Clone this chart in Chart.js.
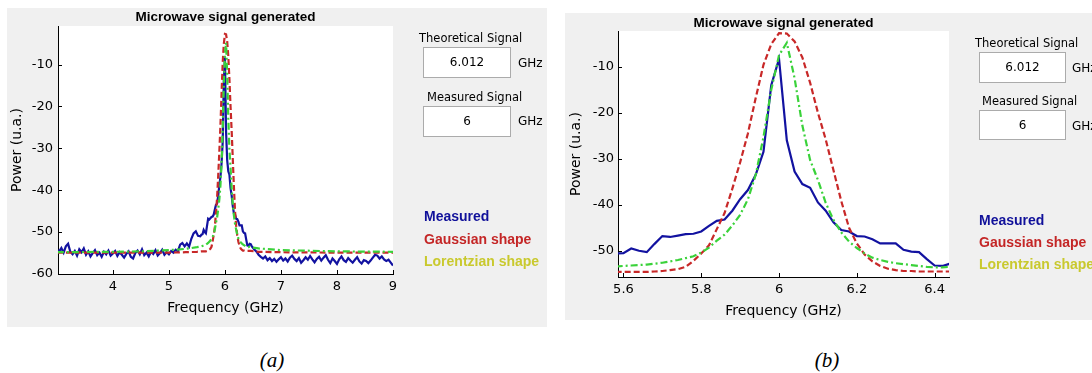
<!DOCTYPE html>
<html>
<head>
<meta charset="utf-8">
<script src="https://cdn.jsdelivr.net/npm/chart.js@4.4.1/dist/chart.umd.min.js"></script>
<style>
  html, body { margin: 0; padding: 0; background: #fff; }
  body { width: 1092px; height: 373px; position: relative; overflow: hidden; font-family: "DejaVu Sans", sans-serif; }
  .panel { position: absolute; background: #f0f0f0; }
  canvas { position: absolute; }
  .txt { position: absolute; white-space: nowrap; height: 16px; line-height: 16px; font-size: 11.5px; color: #000; z-index: 2; }
  .box { position: absolute; background: #fff; border: 1px solid #ababab; box-sizing: border-box; text-align: center; font-size: 12px; z-index: 2; }
  .leg { position: absolute; white-space: nowrap; font-family: "Liberation Sans", Arial, sans-serif; font-weight: bold; font-size: 14px; height: 16px; line-height: 16px; z-index: 2; }
  .cap { position: absolute; font-family: "Liberation Serif", serif; font-style: italic; font-size: 21px; width: 60px; text-align: center; height: 24px; line-height: 24px; }
</style>
</head>
<body>
  <div class="panel" style="left:7px; top:8px; width:540px; height:319px;"></div>
  <div class="panel" style="left:565px; top:13px; width:527px; height:307px;"></div>

  <canvas id="chartA" width="425" height="319" style="left:7px; top:8px;"></canvas>
  <canvas id="chartB" width="434" height="307" style="left:565px; top:13px;"></canvas>

  <!-- panel (a) controls -->
  <div class="txt" style="left:419px; top:30px;">Theoretical Signal</div>
  <div class="box" style="left:423px; top:47px; width:88px; height:31px; line-height:29px;">6.012</div>
  <div class="txt" style="left:518px; top:55px; font-size:12px;">GHz</div>
  <div class="txt" style="left:427px; top:89px;">Measured Signal</div>
  <div class="box" style="left:423px; top:106px; width:88px; height:31px; line-height:29px;">6</div>
  <div class="txt" style="left:518px; top:113px; font-size:12px;">GHz</div>
  <div class="leg" style="left:424px; top:208px; color:#10109a;">Measured</div>
  <div class="leg" style="left:424px; top:231px; color:#c42626;">Gaussian shape</div>
  <div class="leg" style="left:424px; top:253px; color:#c9c92e;">Lorentzian shape</div>

  <!-- panel (b) controls -->
  <div class="txt" style="left:975px; top:35px;">Theoretical Signal</div>
  <div class="box" style="left:979px; top:52px; width:87px; height:31px; line-height:29px;">6.012</div>
  <div class="txt" style="left:1072px; top:60px; font-size:12px;">GHz</div>
  <div class="txt" style="left:982px; top:93px;">Measured Signal</div>
  <div class="box" style="left:979px; top:110px; width:87px; height:30px; line-height:28px;">6</div>
  <div class="txt" style="left:1072px; top:118px; font-size:12px;">GHz</div>
  <div class="leg" style="left:979px; top:212px; color:#10109a;">Measured</div>
  <div class="leg" style="left:979px; top:234px; color:#c42626;">Gaussian shape</div>
  <div class="leg" style="left:979px; top:256px; color:#c9c92e;">Lorentzian shape</div>

  <div class="cap" style="left:242px; top:348px;">(a)</div>
  <div class="cap" style="left:797px; top:348px;">(b)</div>

<script>
// frequency samples (GHz) of the measured trace
const freqGHz = [
  3.00, 3.04, 3.08, 3.12, 3.16, 3.20, 3.24, 3.28, 3.32, 3.36,
  3.40, 3.44, 3.48, 3.52, 3.56, 3.60, 3.64, 3.68, 3.72, 3.76,
  3.80, 3.84, 3.88, 3.92, 3.96, 4.00, 4.04, 4.08, 4.12, 4.16,
  4.20, 4.24, 4.28, 4.32, 4.36, 4.40, 4.44, 4.48, 4.52, 4.56,
  4.60, 4.64, 4.68, 4.72, 4.76, 4.80, 4.84, 4.88, 4.92, 4.96,
  5.00, 5.04, 5.08, 5.12, 5.16, 5.20, 5.24, 5.28, 5.32, 5.36,
  5.40, 5.44, 5.48, 5.52, 5.56,
  5.58, 5.60, 5.62, 5.64, 5.66, 5.68, 5.70, 5.72, 5.74, 5.76,
  5.78, 5.80, 5.82, 5.84, 5.86, 5.88, 5.90, 5.92, 5.94, 5.96,
  5.98, 6.00, 6.02, 6.04, 6.06, 6.08, 6.10, 6.12, 6.14, 6.16,
  6.18, 6.20, 6.22, 6.24, 6.26, 6.28, 6.30, 6.32, 6.34, 6.36,
  6.38, 6.40, 6.42, 6.44, 6.46,
  6.48, 6.52, 6.56, 6.60, 6.64, 6.68, 6.72, 6.76, 6.80, 6.84,
  6.88, 6.92, 6.96, 7.00, 7.04, 7.08, 7.12, 7.16, 7.20, 7.24,
  7.28, 7.32, 7.36, 7.40, 7.44, 7.48, 7.52, 7.56, 7.60, 7.64,
  7.68, 7.72, 7.76, 7.80, 7.84, 7.88, 7.92, 7.96, 8.00, 8.04,
  8.08, 8.12, 8.16, 8.20, 8.24, 8.28, 8.32, 8.36, 8.40, 8.44,
  8.48, 8.52, 8.56, 8.60, 8.64, 8.68, 8.72, 8.76, 8.80, 8.84,
  8.88, 8.92, 8.96, 9.00
];

const measuredPower = [
  -54.2, -54.6, -53.8, -54.9, -53.4, -52.8, -54.7, -55.3, -54.5, -55.6,
  -54.1, -54.8, -53.9, -55.4, -54.6, -55.8, -55.0, -54.3, -55.5, -54.9,
  -55.9, -54.7, -55.3, -54.4, -55.6, -55.1, -54.5, -55.7, -54.8, -55.4,
  -56.1, -55.2, -54.6, -55.9, -56.3, -55.0, -54.4, -55.3, -54.1, -55.5,
  -54.9, -55.8, -54.7, -55.2, -54.3, -55.6, -55.0, -54.2, -55.4, -54.8,
  -55.3, -54.5, -54.9, -54.2, -54.6, -53.0, -52.6, -53.4, -52.7, -53.5,
  -51.6, -50.3, -49.8, -50.9, -51.0,
  -50.6, -50.5, -49.5, -50.0, -50.3, -48.5, -46.8, -47.0, -46.7, -46.4,
  -46.3, -45.8, -44.6, -43.5, -43.2, -41.3, -38.8, -36.8, -33.5, -28.5,
  -14.0, -8.3, -26.0, -32.8, -35.5, -36.3, -39.5, -41.3, -43.8, -45.5,
  -45.8, -46.8, -46.9, -47.5, -48.4, -48.4, -48.4, -49.8, -50.2, -50.3,
  -51.8, -53.2, -53.3, -52.8, -52.9,
  -53.4, -54.1, -54.6, -55.4, -55.9, -56.3, -55.8, -56.7, -56.2, -56.9,
  -56.4, -57.1, -56.5, -56.0, -56.8, -56.3, -57.0, -56.1, -55.6, -56.4,
  -56.9, -56.2, -57.3, -56.7, -56.0, -56.6, -55.7, -56.5, -57.2, -56.4,
  -55.9, -56.8, -56.1, -55.5, -56.6, -57.4, -56.3, -56.9, -57.6, -56.5,
  -55.8, -56.7, -57.1, -56.2, -56.8, -57.3, -56.6, -56.0, -57.0, -57.5,
  -56.7, -56.9, -57.4, -56.8, -56.1, -55.4, -55.6, -56.3, -55.8, -56.5,
  -56.9, -56.6, -57.3, -58.0
];

// frequency samples (GHz) of the two fitted shapes
const fitFreqGHz = [
  3.00, 4.00, 4.50, 5.00, 5.30, 5.50,
  5.58, 5.60, 5.62, 5.64, 5.66, 5.68, 5.70, 5.72, 5.74, 5.76,
  5.78, 5.80, 5.82, 5.84, 5.86, 5.88, 5.90, 5.92, 5.94, 5.96,
  5.98, 6.00, 6.02, 6.04, 6.06, 6.08, 6.10, 6.12, 6.14, 6.16,
  6.18, 6.20, 6.22, 6.24, 6.26, 6.28, 6.30, 6.32, 6.34, 6.36,
  6.38, 6.40, 6.42, 6.44, 6.46,
  6.60, 7.00, 8.00, 9.00
];

const gaussianPower = [
  -54.9, -54.9, -54.9, -54.9, -54.8, -54.7,
  -54.6, -54.6, -54.6, -54.6, -54.6, -54.5, -54.4, -54.2, -54.0, -53.5,
  -52.2, -50.6, -48.8, -45.3, -41.8, -36.5, -30.8, -24.5, -16.8, -9.6,
  -5.1, -2.7, -2.8, -4.5, -8.0, -13.5, -20.0, -25.8, -32.5, -39.2,
  -45.0, -48.4, -50.8, -52.3, -53.3, -53.9, -54.2, -54.4, -54.4, -54.5,
  -54.5, -54.5, -54.5, -54.5, -54.5,
  -54.7, -54.8, -54.9, -54.9
];

const lorentzianPower = [
  -54.8, -54.7, -54.6, -54.3, -54.0, -53.6,
  -53.4, -53.3, -53.2, -53.1, -53.0, -52.8, -52.6, -52.3, -52.0, -51.6,
  -51.2, -50.4, -49.3, -47.8, -46.5, -44.5, -42.2, -38.8, -33.5, -25.3,
  -15.0, -7.5, -4.8, -12.5, -22.8, -30.3, -34.6, -39.6, -43.3, -46.0,
  -48.0, -49.4, -50.6, -51.5, -52.0, -52.4, -52.7, -52.9, -53.1, -53.3,
  -53.5, -53.6, -53.6, -53.5, -53.6,
  -53.9, -54.3, -54.6, -54.7
];

const chartTitle = 'Microwave signal generated';
const xAxisTitle = 'Frequency (GHz)';
const yAxisTitle = 'Power (u.a.)';

// white plotting box like the MATLAB axes
const plotBackground = {
  id: 'plotBackground',
  beforeDraw(chart) {
    const { ctx, chartArea: a } = chart;
    ctx.save();
    ctx.fillStyle = '#fff';
    ctx.fillRect(a.left, a.top, a.right - a.left, a.bottom - a.top);
    ctx.restore();
  }
};

// tick marks pointing into the plot
const inwardTicks = {
  id: 'inwardTicks',
  afterDatasetsDraw(chart) {
    const { ctx, chartArea: a, scales } = chart;
    ctx.save();
    ctx.strokeStyle = '#000';
    ctx.lineWidth = 1;
    ctx.beginPath();
    scales.x.ticks.forEach(t => {
      const px = Math.round(scales.x.getPixelForValue(t.value)) + 0.5;
      ctx.moveTo(px, a.bottom);
      ctx.lineTo(px, a.bottom - 4);
    });
    scales.y.ticks.forEach(t => {
      const py = Math.round(scales.y.getPixelForValue(t.value)) + 0.5;
      ctx.moveTo(a.left, py);
      ctx.lineTo(a.left + 4, py);
    });
    ctx.stroke();
    ctx.restore();
  }
};

function toPoints(xs, ys) {
  return xs.map((x, i) => ({ x: x, y: ys[i] }));
}

function fmt(v) {
  return String(Math.round(v * 100) / 100);
}

function drawPanel(id, s) {
  const tickFont = { family: 'DejaVu Sans', size: 13 };
  const titleFont = { family: 'DejaVu Sans', size: 14 };
  return new Chart(document.getElementById(id), {
    type: 'line',
    data: {
      datasets: [
        {
          label: 'Lorentzian shape',
          data: toPoints(fitFreqGHz, lorentzianPower),
          borderColor: '#3ad23a',
          borderWidth: 2.2,
          borderDash: [7, 3, 2, 3],
          pointRadius: 0,
          order: 0
        },
        {
          label: 'Gaussian shape',
          data: toPoints(fitFreqGHz, gaussianPower),
          borderColor: '#c82828',
          borderWidth: 2.2,
          borderDash: [6, 3],
          pointRadius: 0,
          order: 1
        },
        {
          label: 'Measured',
          data: toPoints(freqGHz, measuredPower),
          borderColor: '#1212a0',
          borderWidth: 2.2,
          pointRadius: 0,
          order: 2
        }
      ]
    },
    options: {
      responsive: false,
      animation: false,
      devicePixelRatio: 1,
      layout: { padding: { left: 0, top: 0, right: s.padRight, bottom: 0 }, autoPadding: false },
      plugins: {
        legend: { display: false },
        tooltip: { enabled: false },
        title: {
          display: true,
          fullSize: false,
          text: chartTitle,
          color: '#000',
          font: { family: 'Liberation Sans', size: 13.5, weight: 'bold' },
          padding: s.titlePad
        }
      },
      scales: {
        x: {
          type: 'linear',
          min: s.xMin,
          max: s.xMax,
          grid: { display: true, drawOnChartArea: false, drawTicks: false },
          border: { display: true, color: '#000', width: 1 },
          ticks: { stepSize: s.xStep, includeBounds: false, color: '#000', font: tickFont, padding: 5.2, maxRotation: 0, callback: fmt },
          title: { display: true, text: xAxisTitle, color: '#000', font: titleFont, padding: { top: 0, bottom: s.xTitlePad } },
          afterFit(scale) { scale.height = s.xHeight; }
        },
        y: {
          min: s.yMin,
          max: s.yMax,
          grid: { display: true, drawOnChartArea: false, drawTicks: false },
          border: { display: true, color: '#000', width: 1 },
          ticks: { stepSize: 10, includeBounds: false, color: '#000', font: tickFont, padding: s.yTickPad, callback: fmt },
          title: { display: true, text: yAxisTitle, color: '#000', font: titleFont, padding: { top: s.yTitlePad, bottom: 0 } },
          afterFit(scale) { scale.width = s.yWidth; }
        }
      }
    },
    plugins: [plotBackground, inwardTicks]
  });
}

drawPanel('chartA', {
  xMin: 3.02, xMax: 9, xStep: 1,
  yMin: -60, yMax: -0.8,
  padRight: 39, yWidth: 51, xHeight: 53,
  titlePad: { top: 1, bottom: 0.8 },
  xTitlePad: 10.1, yTitlePad: 2.1, yTickPad: 5
});

drawPanel('chartB', {
  xMin: 5.586, xMax: 6.437, xStep: 0.2,
  yMin: -55.7, yMax: -2.24,
  padRight: 50, yWidth: 53, xHeight: 43,
  titlePad: { top: 1.8, bottom: 0 },
  xTitlePad: 0.6, yTitlePad: 2.6, yTickPad: 4
});
</script>
</body>
</html>
